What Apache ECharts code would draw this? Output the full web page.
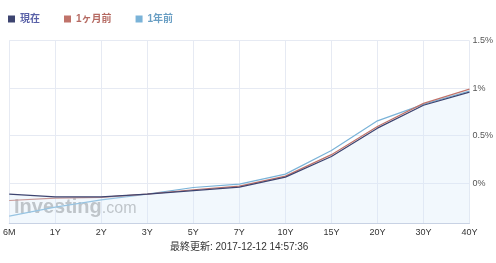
<!DOCTYPE html>
<html><head><meta charset="utf-8">
<script src="https://cdn.jsdelivr.net/npm/echarts@6/dist/echarts.min.js"></script>
<style>html,body{margin:0;padding:0;background:#fff}#c{width:496px;height:263px}</style>
</head><body><div id="c"></div>
<script>
const categories = ['6M','1Y','2Y','3Y','5Y','7Y','10Y','15Y','20Y','30Y','40Y'];
const current = [-0.116,-0.144,-0.144,-0.116,-0.078,-0.042,0.063,0.28,0.579,0.82,0.958];
const oneMonthAgo = [-0.183,-0.158,-0.151,-0.116,-0.070,-0.032,0.074,0.30,0.596,0.84,0.99];
const oneYearAgo = [-0.347,-0.253,-0.176,-0.116,-0.046,-0.010,0.095,0.343,0.656,0.83,0.97];
const yTicks = [0,0.5,1,1.5];
const seriesNames = ['現在','1ヶ月前','1年前'];
const updated = '最終更新: 2017-12-12 14:57:36';

const chart = echarts.init(document.getElementById('c'));
const font = 'Arial, "Liberation Sans", "Noto Sans CJK JP", sans-serif';
chart.setOption({
  animation:false,
  textStyle:{fontFamily:font},
  legend:{
    left:3, top:9, itemWidth:7, itemHeight:7, itemGap:24, icon:'rect',
    data:[
      {name:seriesNames[0], textStyle:{color:'#5a62a8'}},
      {name:seriesNames[1], textStyle:{color:'#b56a62'}},
      {name:seriesNames[2], textStyle:{color:'#6a9fc4'}}
    ],
    textStyle:{fontSize:10, fontWeight:'bold', fontFamily:font}
  },
  grid:{left:7.5, right:26, top:40.7, bottom:40},
  graphic:[
    {type:'text', left:170, top:242, style:{text:updated, fill:'#333', font:'10px '+font}},
    {type:'text', left:14, top:197, z:0, style:{
      text:'{a|Investing}{b|.com}',
      rich:{a:{fontSize:20, fontWeight:'bold', fill:'#b4b4b4', fontFamily:font},
            b:{fontSize:16, fill:'#b4b4b4', fontFamily:font, padding:[3,0,0,0]}}
    }}
  ],
  xAxis:{
    type:'category', data:categories, boundaryGap:false,
    axisLine:{onZero:false, lineStyle:{color:'#c8d2e4'}},
    axisTick:{show:false},
    axisLabel:{color:'#333', fontSize:9, margin:5, fontFamily:font},
    splitLine:{show:true, lineStyle:{color:'#e6eaf3'}}
  },
  yAxis:{
    type:'value', position:'right', min:-0.42, max:1.5,
    axisLine:{show:false}, axisTick:{show:false, customValues:yTicks},
    axisLabel:{customValues:yTicks, color:'#555', fontSize:9, margin:3, fontFamily:font,
      formatter:v=>(Math.round(v*10)/10)+'%'},
    splitLine:{show:true, lineStyle:{color:'#e6eaf3'}}
  },
  series:[
    {name:seriesNames[0], type:'line', data:current, symbol:'none', z:5,
     lineStyle:{color:'#3d4470', width:1.2}, itemStyle:{color:'#3d4470'},
     areaStyle:{color:'rgba(215,232,250,0.45)', origin:'start'}},
    {name:seriesNames[1], type:'line', data:oneMonthAgo, symbol:'none', z:4,
     lineStyle:{color:'#c0736a', width:1.2}, itemStyle:{color:'#c0736a'}},
    {name:seriesNames[2], type:'line', data:oneYearAgo, symbol:'none', z:3,
     lineStyle:{color:'#7ab3d8', width:1.2}, itemStyle:{color:'#7ab3d8'}}
  ]
});
</script></body></html>
